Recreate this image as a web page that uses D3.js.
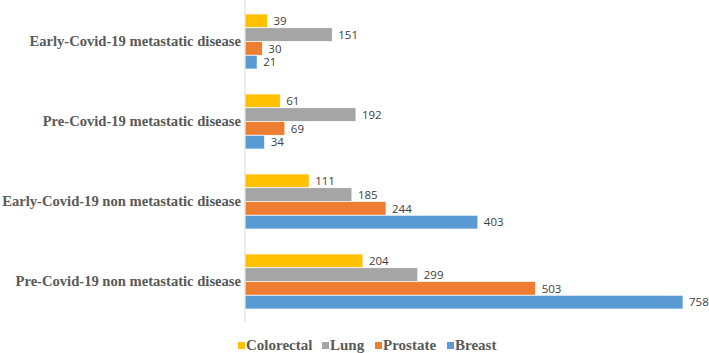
<!DOCTYPE html>
<html>
<head>
<meta charset="utf-8">
<script src="https://cdn.jsdelivr.net/npm/d3@7"></script>
<style>
  body { margin: 0; background: #fff; }
</style>
</head>
<body>
<script>
// chart data
var categories = [
    'Early-Covid-19 metastatic disease',
    'Pre-Covid-19 metastatic disease',
    'Early-Covid-19 non metastatic disease',
    'Pre-Covid-19 non metastatic disease'
];
var seriesNames = ['Colorectal', 'Lung', 'Prostate', 'Breast'];
var colorectal = [39, 61, 111, 204];
var lung = [151, 192, 185, 299];
var prostate = [30, 69, 244, 503];
var breast = [21, 34, 403, 758];
var colors = ['#FFC000', '#A5A5A5', '#ED7D31', '#5B9BD5'];

var seriesValues = [colorectal, lung, prostate, breast];

var width = 709, height = 353;
var x0 = 245;

var svg = d3.select('body')
    .append('svg')
    .attr('width', width)
    .attr('height', height);

// scales
var x = d3.scaleLinear()
    .domain([0, 758])
    .range([x0, 683]);

var y = d3.scaleBand()
    .domain(categories)
    .range([1.5, 321.5])
    .paddingInner(0.3125)
    .paddingOuter(0.15625);

var ySub = d3.scaleBand()
    .domain(seriesNames)
    .range([0, y.bandwidth()]);

// groups of bars
var groups = svg.selectAll('g.cat')
    .data(categories)
    .enter().append('g')
    .attr('class', 'cat')
    .attr('transform', function(d) { return 'translate(0,' + y(d) + ')'; });

groups.each(function(cat, ci) {
    var g = d3.select(this);
    seriesNames.forEach(function(s, si) {
        var v = seriesValues[si][ci];
        g.append('rect')
            .attr('x', x(0))
            .attr('y', ySub(s))
            .attr('width', x(v) - x(0))
            .attr('height', ySub.bandwidth())
            .attr('fill', colors[si])
            .attr('stroke', '#fff')
            .attr('stroke-width', 0.7);
        g.append('text')
            .attr('x', x(v) + 6)
            .attr('y', ySub(s) + ySub.bandwidth() / 2)
            .attr('dy', '0.36em')
            .attr('font-family', 'Open Sans, sans-serif')
            .attr('font-size', 11.5)
            .attr('fill', '#404040')
            .text(v);
    });
});

// axis line on the left
var yAxis = d3.axisLeft(y).tickSize(0).tickPadding(4);
var ax = svg.append('g')
    .attr('transform', 'translate(' + x0 + ',0)')
    .call(yAxis);
ax.select('.domain')
    .attr('stroke', '#d9d9d9')
    .attr('d', 'M0,0V322');
ax.selectAll('text')
    .attr('font-family', 'Liberation Serif, serif')
    .attr('font-weight', 'bold')
    .attr('font-size', 14.6)
    .attr('fill', '#595959');

// legend
var legendX = [238, 322, 375, 447];
var legend = svg.append('g');
seriesNames.forEach(function(s, i) {
    legend.append('rect')
        .attr('x', legendX[i])
        .attr('y', 342)
        .attr('width', 7)
        .attr('height', 7)
        .attr('fill', colors[i]);
    legend.append('text')
        .attr('x', legendX[i] + 8)
        .attr('y', 350)
        .attr('font-family', 'Liberation Serif, serif')
        .attr('font-weight', 'bold')
        .attr('font-size', 15)
        .attr('fill', '#595959')
        .text(s);
});
</script>
</body>
</html>
